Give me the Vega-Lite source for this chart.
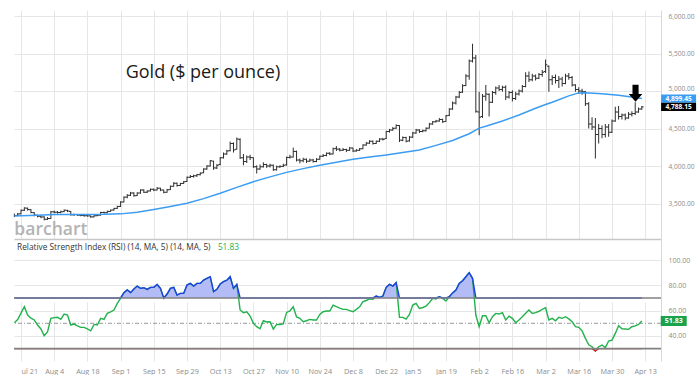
{
  "$schema": "https://vega.github.io/schema/vega-lite/v6.json",
  "padding": {"left": 11, "top": 10, "right": 0, "bottom": 0},
  "background": "white",
  "bounds": "flush",
  "spacing": 0,
  "config": {
    "view": {"stroke": null},
    "font": "Open Sans",
    "axis": {"gridColor": "#e6e6e6", "gridWidth": 1, "ticks": false, "title": null, "labelColor": "#8c8c8c", "labelFont": "Open Sans"}
  },
  "datasets": {
    "bars": [
      {"t":-2,"o":3330,"h":3365,"l":3320,"c":3340},{"t":-1,"o":3342,"h":3375,"l":3335,"c":3360},{"t":0,"o":3362,"h":3420,"l":3355,"c":3410},{"t":1,"o":3410,"h":3450,"l":3400,"c":3440},{"t":2,"o":3438,"h":3445,"l":3405,"c":3420},{"t":3,"o":3418,"h":3425,"l":3370,"c":3380},{"t":4,"o":3378,"h":3385,"l":3330,"c":3345},{"t":5,"o":3345,"h":3350,"l":3315,"c":3330},{"t":6,"o":3330,"h":3340,"l":3305,"c":3320},{"t":7,"o":3322,"h":3330,"l":3275,"c":3290},
      {"t":8,"o":3290,"h":3320,"l":3280,"c":3300},{"t":9,"o":3300,"h":3400,"l":3295,"c":3390},{"t":10,"o":3390,"h":3405,"l":3370,"c":3385},{"t":11,"o":3385,"h":3400,"l":3365,"c":3380},{"t":12,"o":3380,"h":3405,"l":3370,"c":3390},{"t":13,"o":3392,"h":3420,"l":3385,"c":3410},{"t":14,"o":3410,"h":3415,"l":3385,"c":3400},{"t":15,"o":3395,"h":3400,"l":3340,"c":3350},{"t":16,"o":3350,"h":3365,"l":3335,"c":3352},{"t":17,"o":3352,"h":3360,"l":3335,"c":3345},
      {"t":18,"o":3345,"h":3355,"l":3330,"c":3340},{"t":19,"o":3340,"h":3350,"l":3325,"c":3338},{"t":20,"o":3338,"h":3350,"l":3325,"c":3335},{"t":21,"o":3335,"h":3340,"l":3310,"c":3322},{"t":22,"o":3322,"h":3345,"l":3315,"c":3338},{"t":23,"o":3338,"h":3355,"l":3330,"c":3345},{"t":24,"o":3345,"h":3390,"l":3340,"c":3380},{"t":25,"o":3380,"h":3392,"l":3368,"c":3378},{"t":26,"o":3378,"h":3405,"l":3372,"c":3395},{"t":27,"o":3395,"h":3420,"l":3390,"c":3412},
      {"t":28,"o":3412,"h":3442,"l":3405,"c":3435},{"t":29,"o":3435,"h":3470,"l":3428,"c":3460},{"t":30,"o":3462,"h":3530,"l":3455,"c":3520},{"t":31,"o":3520,"h":3595,"l":3515,"c":3585},{"t":32,"o":3585,"h":3625,"l":3570,"c":3610},{"t":33,"o":3610,"h":3655,"l":3600,"c":3640},{"t":34,"o":3640,"h":3650,"l":3590,"c":3605},{"t":35,"o":3605,"h":3650,"l":3600,"c":3640},{"t":36,"o":3640,"h":3690,"l":3630,"c":3680},{"t":37,"o":3680,"h":3690,"l":3640,"c":3650},
      {"t":38,"o":3650,"h":3675,"l":3640,"c":3668},{"t":39,"o":3668,"h":3700,"l":3660,"c":3690},{"t":40,"o":3690,"h":3700,"l":3665,"c":3680},{"t":41,"o":3680,"h":3720,"l":3675,"c":3705},{"t":42,"o":3705,"h":3710,"l":3665,"c":3680},{"t":43,"o":3680,"h":3685,"l":3635,"c":3650},{"t":44,"o":3650,"h":3695,"l":3645,"c":3685},{"t":45,"o":3685,"h":3740,"l":3680,"c":3730},{"t":46,"o":3730,"h":3785,"l":3725,"c":3770},{"t":47,"o":3770,"h":3780,"l":3725,"c":3740},
      {"t":48,"o":3740,"h":3775,"l":3735,"c":3768},{"t":49,"o":3768,"h":3800,"l":3760,"c":3790},{"t":50,"o":3795,"h":3860,"l":3790,"c":3850},{"t":51,"o":3850,"h":3880,"l":3840,"c":3860},{"t":52,"o":3860,"h":3885,"l":3845,"c":3870},{"t":53,"o":3870,"h":3895,"l":3855,"c":3885},{"t":54,"o":3885,"h":3915,"l":3875,"c":3905},{"t":55,"o":3910,"h":3970,"l":3905,"c":3960},{"t":56,"o":3960,"h":4010,"l":3950,"c":4000},{"t":57,"o":4000,"h":4080,"l":3995,"c":4070},
      {"t":58,"o":4065,"h":4070,"l":3950,"c":3975},{"t":59,"o":3975,"h":4025,"l":3960,"c":4010},{"t":60,"o":4020,"h":4120,"l":4010,"c":4110},{"t":61,"o":4110,"h":4180,"l":4100,"c":4160},{"t":62,"o":4160,"h":4215,"l":4150,"c":4200},{"t":63,"o":4205,"h":4325,"l":4195,"c":4300},{"t":64,"o":4300,"h":4315,"l":4180,"c":4215},{"t":65,"o":4225,"h":4380,"l":4220,"c":4360},{"t":66,"o":4355,"h":4370,"l":4095,"c":4110},{"t":67,"o":4110,"h":4160,"l":4010,"c":4060},
      {"t":68,"o":4060,"h":4140,"l":4040,"c":4120},{"t":69,"o":4120,"h":4150,"l":4080,"c":4115},{"t":70,"o":4110,"h":4115,"l":3975,"c":3990},{"t":71,"o":3990,"h":4010,"l":3900,"c":3960},{"t":72,"o":3960,"h":4020,"l":3950,"c":3990},{"t":73,"o":3990,"h":4050,"l":3980,"c":4020},{"t":74,"o":4020,"h":4030,"l":3975,"c":4000},{"t":75,"o":4000,"h":4030,"l":3980,"c":4010},{"t":76,"o":4010,"h":4020,"l":3935,"c":3950},{"t":77,"o":3950,"h":4005,"l":3940,"c":3990},
      {"t":78,"o":3990,"h":4010,"l":3975,"c":3995},{"t":79,"o":3995,"h":4030,"l":3985,"c":4010},{"t":80,"o":4015,"h":4125,"l":4005,"c":4115},{"t":81,"o":4115,"h":4150,"l":4100,"c":4120},{"t":82,"o":4120,"h":4245,"l":4115,"c":4195},{"t":83,"o":4195,"h":4205,"l":4060,"c":4080},{"t":84,"o":4080,"h":4100,"l":4035,"c":4070},{"t":85,"o":4070,"h":4110,"l":4050,"c":4090},{"t":86,"o":4090,"h":4100,"l":4040,"c":4065},{"t":87,"o":4065,"h":4100,"l":4055,"c":4080},
      {"t":88,"o":4080,"h":4095,"l":4045,"c":4060},{"t":89,"o":4060,"h":4105,"l":4050,"c":4090},{"t":90,"o":4090,"h":4140,"l":4085,"c":4130},{"t":91,"o":4130,"h":4160,"l":4120,"c":4140},{"t":92,"o":4140,"h":4180,"l":4130,"c":4170},{"t":93,"o":4170,"h":4185,"l":4145,"c":4160},{"t":94,"o":4160,"h":4245,"l":4155,"c":4230},{"t":95,"o":4235,"h":4265,"l":4200,"c":4225},{"t":96,"o":4225,"h":4240,"l":4195,"c":4210},{"t":97,"o":4210,"h":4240,"l":4200,"c":4220},
      {"t":98,"o":4220,"h":4230,"l":4185,"c":4210},{"t":99,"o":4210,"h":4255,"l":4200,"c":4240},{"t":100,"o":4240,"h":4245,"l":4185,"c":4200},{"t":101,"o":4200,"h":4225,"l":4190,"c":4210},{"t":102,"o":4210,"h":4240,"l":4200,"c":4230},{"t":103,"o":4230,"h":4290,"l":4225,"c":4280},{"t":104,"o":4280,"h":4320,"l":4270,"c":4305},{"t":105,"o":4305,"h":4345,"l":4295,"c":4330},{"t":106,"o":4330,"h":4340,"l":4285,"c":4300},{"t":107,"o":4300,"h":4340,"l":4295,"c":4330},
      {"t":108,"o":4330,"h":4370,"l":4320,"c":4360},{"t":109,"o":4360,"h":4375,"l":4340,"c":4355},{"t":110,"o":4365,"h":4470,"l":4360,"c":4460},{"t":111,"o":4460,"h":4495,"l":4445,"c":4480},{"t":112,"o":4480,"h":4520,"l":4470,"c":4500},{"t":113,"o":4505,"h":4555,"l":4495,"c":4540},{"t":114,"o":4540,"h":4545,"l":4320,"c":4345},{"t":115,"o":4345,"h":4395,"l":4330,"c":4380},{"t":116,"o":4380,"h":4390,"l":4315,"c":4330},{"t":117,"o":4335,"h":4400,"l":4325,"c":4385},
      {"t":118,"o":4385,"h":4455,"l":4375,"c":4440},{"t":119,"o":4440,"h":4495,"l":4430,"c":4480},{"t":120,"o":4480,"h":4490,"l":4440,"c":4460},{"t":121,"o":4460,"h":4485,"l":4450,"c":4470},{"t":122,"o":4470,"h":4515,"l":4460,"c":4505},{"t":123,"o":4505,"h":4575,"l":4500,"c":4560},{"t":124,"o":4560,"h":4600,"l":4550,"c":4590},{"t":125,"o":4590,"h":4615,"l":4580,"c":4600},{"t":126,"o":4600,"h":4640,"l":4590,"c":4620},{"t":127,"o":4620,"h":4630,"l":4575,"c":4590},
      {"t":128,"o":4595,"h":4680,"l":4590,"c":4670},{"t":129,"o":4675,"h":4770,"l":4665,"c":4760},{"t":130,"o":4760,"h":4860,"l":4750,"c":4840},{"t":131,"o":4840,"h":4935,"l":4820,"c":4920},{"t":132,"o":4920,"h":5000,"l":4905,"c":4980},{"t":133,"o":4985,"h":5090,"l":4975,"c":5070},{"t":134,"o":5075,"h":5225,"l":5065,"c":5200},{"t":135,"o":5200,"h":5420,"l":5150,"c":5400},{"t":136,"o":5400,"h":5630,"l":5380,"c":5440},{"t":137,"o":5440,"h":5480,"l":4710,"c":4730},
      {"t":138,"o":4720,"h":4990,"l":4410,"c":4650},{"t":139,"o":4660,"h":4960,"l":4640,"c":4930},{"t":140,"o":4930,"h":5080,"l":4870,"c":4960},{"t":141,"o":4955,"h":4970,"l":4660,"c":4850},{"t":142,"o":4850,"h":5000,"l":4840,"c":4980},{"t":143,"o":4980,"h":5060,"l":4950,"c":5040},{"t":144,"o":5040,"h":5080,"l":5000,"c":5020},{"t":145,"o":5020,"h":5070,"l":4990,"c":5050},{"t":146,"o":5050,"h":5075,"l":4880,"c":4920},{"t":147,"o":4920,"h":5000,"l":4900,"c":4980},
      {"t":148,"o":4980,"h":5010,"l":4860,"c":4900},{"t":149,"o":4900,"h":4990,"l":4880,"c":4960},{"t":150,"o":4960,"h":5020,"l":4940,"c":5000},{"t":151,"o":5000,"h":5080,"l":4980,"c":5060},{"t":152,"o":5060,"h":5250,"l":5050,"c":5200},{"t":153,"o":5200,"h":5260,"l":5120,"c":5150},{"t":154,"o":5150,"h":5230,"l":5130,"c":5200},{"t":155,"o":5200,"h":5220,"l":5140,"c":5170},{"t":156,"o":5170,"h":5240,"l":5160,"c":5220},{"t":157,"o":5220,"h":5280,"l":5190,"c":5250},
      {"t":158,"o":5260,"h":5420,"l":5240,"c":5350},{"t":159,"o":5330,"h":5340,"l":4990,"c":5150},{"t":160,"o":5150,"h":5210,"l":5080,"c":5180},{"t":161,"o":5180,"h":5220,"l":5100,"c":5140},{"t":162,"o":5140,"h":5200,"l":5040,"c":5160},{"t":163,"o":5160,"h":5190,"l":5060,"c":5100},{"t":164,"o":5100,"h":5230,"l":5090,"c":5200},{"t":165,"o":5200,"h":5240,"l":5150,"c":5180},{"t":166,"o":5180,"h":5200,"l":5060,"c":5080},{"t":167,"o":5080,"h":5090,"l":4990,"c":5020},
      {"t":168,"o":5020,"h":5050,"l":4960,"c":5000},{"t":169,"o":5000,"h":5030,"l":4950,"c":4990},{"t":170,"o":4990,"h":5000,"l":4800,"c":4830},{"t":171,"o":4830,"h":4850,"l":4500,"c":4560},{"t":172,"o":4560,"h":4650,"l":4480,"c":4520},{"t":173,"o":4520,"h":4640,"l":4100,"c":4420},{"t":174,"o":4420,"h":4560,"l":4300,"c":4500},{"t":175,"o":4500,"h":4540,"l":4370,"c":4420},{"t":176,"o":4420,"h":4560,"l":4380,"c":4520},{"t":177,"o":4520,"h":4560,"l":4390,"c":4450},
      {"t":178,"o":4450,"h":4620,"l":4440,"c":4600},{"t":179,"o":4600,"h":4790,"l":4590,"c":4720},{"t":180,"o":4720,"h":4800,"l":4620,"c":4660},{"t":181,"o":4660,"h":4700,"l":4620,"c":4680},{"t":182,"o":4680,"h":4700,"l":4610,"c":4640},{"t":183,"o":4640,"h":4720,"l":4630,"c":4690},{"t":184,"o":4690,"h":4730,"l":4660,"c":4700},{"t":185,"o":4700,"h":4850,"l":4680,"c":4720},{"t":186,"o":4720,"h":4780,"l":4710,"c":4760},{"t":187,"o":4760,"h":4800,"l":4750,"c":4788.15}
    ],
    "ma": [
      {"t":-2,"v":3335},{"t":0,"v":3338},{"t":5,"v":3345},{"t":10,"v":3352},{"t":15,"v":3355},{"t":20,"v":3355},{"t":25,"v":3356},{"t":30,"v":3362},{"t":35,"v":3385},{"t":40,"v":3420},{"t":45,"v":3460},{"t":50,"v":3505},{"t":55,"v":3565},{"t":60,"v":3637},{"t":65,"v":3715},{"t":70,"v":3790},{"t":75,"v":3855},{"t":80,"v":3915},{"t":85,"v":3965},{"t":90,"v":4010},{"t":95,"v":4050},{"t":100,"v":4089},{"t":105,"v":4120},{"t":110,"v":4148},{"t":115,"v":4180},{"t":120,"v":4213},{"t":125,"v":4275},{"t":130,"v":4340},{"t":135,"v":4430},{"t":138,"v":4505},{"t":140,"v":4530},{"t":145,"v":4600},{"t":150,"v":4680},{"t":155,"v":4770},{"t":158,"v":4820},{"t":160,"v":4850},{"t":165,"v":4935},{"t":168,"v":4975},{"t":170,"v":4978},{"t":175,"v":4965},{"t":180,"v":4945},{"t":185,"v":4912},{"t":187,"v":4899.45}
    ],
    "rsi": [
      {"t":-2,"v":50.4},{"t":-1,"v":53},{"t":0,"v":58},{"t":1,"v":63.1},{"t":2,"v":56.5},{"t":3,"v":54},{"t":4,"v":52.6},{"t":5,"v":48.6},{"t":6,"v":45.5},{"t":7,"v":40.2},{"t":8,"v":43.3},{"t":9,"v":53.9},{"t":10,"v":54.5},{"t":11,"v":54.7},{"t":12,"v":53.1},{"t":13,"v":57.3},{"t":14,"v":56.5},{"t":15,"v":48.6},{"t":16,"v":49.4},{"t":17,"v":48},{"t":18,"v":46.8},{"t":19,"v":46.8},{"t":20,"v":45.5},{"t":21,"v":44.1},{"t":22,"v":49.1},{"t":23,"v":48.6},{"t":24,"v":53.9},{"t":25,"v":53.1},{"t":26,"v":57.8},{"t":27,"v":59},{"t":28,"v":60.5},{"t":29,"v":65.7},
      {"t":30,"v":69.7},{"t":31,"v":74.2},{"t":32,"v":76.3},{"t":33,"v":74.2},{"t":34,"v":77.1},{"t":35,"v":79.4},{"t":36,"v":77.6},{"t":37,"v":78.1},{"t":38,"v":76.8},{"t":39,"v":78.4},{"t":40,"v":78.4},{"t":41,"v":80.7},{"t":42,"v":77.6},{"t":43,"v":69.7},{"t":44,"v":73.1},{"t":45,"v":77.6},{"t":46,"v":78.4},{"t":47,"v":72.3},{"t":48,"v":73.6},{"t":49,"v":73.6},{"t":50,"v":80.2},{"t":51,"v":81.5},{"t":52,"v":79.4},{"t":53,"v":81.5},{"t":54,"v":81.5},{"t":55,"v":84.2},{"t":56,"v":85.5},{"t":57,"v":86.8},{"t":58,"v":75},{"t":59,"v":76.8},
      {"t":60,"v":81},{"t":61,"v":82.9},{"t":62,"v":84},{"t":63,"v":86.8},{"t":64,"v":77.6},{"t":65,"v":80.7},{"t":66,"v":60.5},{"t":67,"v":58.4},{"t":68,"v":59.1},{"t":69,"v":55.7},{"t":70,"v":49.9},{"t":71,"v":47.3},{"t":72,"v":45.7},{"t":73,"v":52},{"t":74,"v":51},{"t":75,"v":51.2},{"t":76,"v":45.4},{"t":77,"v":49.1},{"t":78,"v":49.1},{"t":79,"v":49.5},{"t":80,"v":58.6},{"t":81,"v":59.7},{"t":82,"v":63.1},{"t":83,"v":55},{"t":84,"v":53.9},{"t":85,"v":51.2},{"t":86,"v":52},{"t":87,"v":53.1},{"t":88,"v":52.6},{"t":89,"v":52.6},
      {"t":90,"v":57},{"t":91,"v":59.1},{"t":92,"v":59.7},{"t":93,"v":59.7},{"t":94,"v":64.4},{"t":95,"v":63.1},{"t":96,"v":62},{"t":97,"v":61},{"t":98,"v":61},{"t":99,"v":60},{"t":100,"v":59.1},{"t":101,"v":61},{"t":102,"v":63},{"t":103,"v":67.1},{"t":104,"v":68},{"t":105,"v":69.2},{"t":106,"v":68.9},{"t":107,"v":71.5},{"t":108,"v":70.5},{"t":109,"v":71.5},{"t":110,"v":78.4},{"t":111,"v":80.7},{"t":112,"v":79.4},{"t":113,"v":82.1},{"t":114,"v":54.7},{"t":115,"v":54.7},{"t":116,"v":53.3},{"t":117,"v":57},{"t":118,"v":64.4},{"t":119,"v":65.7},
      {"t":120,"v":61.8},{"t":121,"v":62.5},{"t":122,"v":63.6},{"t":123,"v":66.3},{"t":124,"v":69.7},{"t":125,"v":69.2},{"t":126,"v":71},{"t":127,"v":69.7},{"t":128,"v":67.6},{"t":129,"v":71},{"t":130,"v":74},{"t":131,"v":76.3},{"t":132,"v":81.5},{"t":133,"v":83.6},{"t":134,"v":86.8},{"t":135,"v":90},{"t":136,"v":85.5},{"t":137,"v":56.5},{"t":138,"v":47.3},{"t":139,"v":56},{"t":140,"v":56},{"t":141,"v":50.4},{"t":142,"v":55.2},{"t":143,"v":57.8},{"t":144,"v":57.3},{"t":145,"v":58.4},{"t":146,"v":52.6},{"t":147,"v":55.7},{"t":148,"v":53.9},{"t":149,"v":50.4},
      {"t":150,"v":52.6},{"t":151,"v":55.2},{"t":152,"v":58},{"t":153,"v":60.5},{"t":154,"v":57.8},{"t":155,"v":58.4},{"t":156,"v":59.5},{"t":157,"v":61},{"t":158,"v":62.3},{"t":159,"v":52.6},{"t":160,"v":53.9},{"t":161,"v":52},{"t":162,"v":54.7},{"t":163,"v":53.9},{"t":164,"v":55.2},{"t":165,"v":53.5},{"t":166,"v":51.2},{"t":167,"v":47.3},{"t":168,"v":46.8},{"t":169,"v":44},{"t":170,"v":38.1},{"t":171,"v":33},{"t":172,"v":31.5},{"t":173,"v":28.1},{"t":174,"v":31.5},{"t":175,"v":32.8},{"t":176,"v":30.8},{"t":177,"v":36},{"t":178,"v":36.7},{"t":179,"v":42},
      {"t":180,"v":48.1},{"t":181,"v":45.7},{"t":182,"v":45.5},{"t":183,"v":45.2},{"t":184,"v":47.3},{"t":185,"v":48},{"t":186,"v":49.1},{"t":187,"v":51.83}
    ],
    "tags": [{"s":"MA","v":4899.45},{"s":"Last","v":4788.15}]
  },
  "vconcat": [
    {
      "width": 647,
      "height": 229,
      "layer": [
        {
          "data": {"name": "bars"},
          "mark": {"type": "rule", "color": "#2e2e2e", "strokeWidth": 1},
          "encoding": {
            "x": {"field": "t", "type": "quantitative", "scale": {"domain": [-2.108, 192.77], "nice": false, "zero": false},
                  "axis": {"values": [0,10,20,30,40,50,60,70,80,90,100,110,118,128,138,148,158,168,178,188], "tickCount": 40, "labels": false, "grid": true, "domain": true, "domainColor": "#c8c8c8", "domainWidth": 1.5}},
            "y": {"field": "l", "type": "quantitative", "scale": {"domain": [3027, 6080], "nice": false, "zero": false},
                  "axis": {"orient": "right", "values": [3500,4000,4500,5000,5500,6000], "tickCount": 10, "format": ",.2f", "grid": true, "labelFontSize": 6.6, "labelPadding": 7,
                           "labelOffset": {"condition": {"test": "datum.value == 5000", "value": -2.5}, "value": 0},
                           "domain": true, "domainColor": "#d9d9d9", "domainWidth": 1}},
            "y2": {"field": "h"}
          }
        },
        {
          "data": {"name": "bars"},
          "mark": {"type": "tick", "orient": "horizontal", "size": 1.8, "thickness": 1, "xOffset": -0.9, "color": "#2e2e2e", "opacity": 1, "clip": true},
          "encoding": {
            "x": {"field": "t", "type": "quantitative"},
            "y": {"field": "o", "type": "quantitative"}
          }
        },
        {
          "data": {"name": "bars"},
          "mark": {"type": "tick", "orient": "horizontal", "size": 1.8, "thickness": 1, "xOffset": 0.9, "color": "#2e2e2e", "opacity": 1},
          "encoding": {
            "x": {"field": "t", "type": "quantitative"},
            "y": {"field": "c", "type": "quantitative"}
          }
        },
        {
          "data": {"name": "ma"},
          "mark": {"type": "line", "color": "#3b9cf2", "strokeWidth": 1.5},
          "encoding": {
            "x": {"field": "t", "type": "quantitative"},
            "y": {"field": "v", "type": "quantitative"}
          }
        },
        {
          "data": {"values": [{}]},
          "mark": {"type": "text", "text": "Gold ($ per ounce)", "fontSize": 18, "color": "#1a1a1a", "align": "center", "baseline": "alphabetic"},
          "encoding": {
            "x": {"datum": 54.8, "type": "quantitative"},
            "y": {"datum": 5169, "type": "quantitative"}
          }
        },
        {
          "data": {"values": [{}]},
          "mark": {"type": "text", "text": "barchart", "fontSize": 17.5, "fontWeight": 600, "color": "#b3b3b3", "align": "left", "baseline": "alphabetic"},
          "encoding": {
            "x": {"datum": -2.0, "type": "quantitative"},
            "y": {"datum": 3080, "type": "quantitative"}
          }
        },
        {
          "data": {"values": [{}]},
          "mark": {"type": "point", "shape": "M-0.36,-1L0.36,-1L0.36,0.08L0.8,0.08L0,1L-0.8,0.08L-0.36,0.08Z", "size": 289, "filled": true, "color": "#000000", "opacity": 1},
          "encoding": {
            "x": {"datum": 185.1, "type": "quantitative"},
            "y": {"datum": 4969, "type": "quantitative"}
          }
        },
        {
          "data": {"name": "tags"},
          "mark": {"type": "point", "shape": "M-1,-0.235H1V0.235H-1Z", "size": 1225, "filled": true, "opacity": 1},
          "encoding": {
            "x": {"datum": 198.07, "type": "quantitative"},
            "y": {"field": "v", "type": "quantitative"},
            "color": {"field": "s", "type": "nominal", "scale": {"domain": ["MA", "Last"], "range": ["#3b9cf2", "#000000"]}, "legend": null}
          }
        },
        {
          "data": {"name": "tags"},
          "mark": {"type": "text", "fontSize": 6.6, "fontWeight": "bold", "color": "#ffffff", "align": "center", "baseline": "middle"},
          "encoding": {
            "x": {"datum": 198.07, "type": "quantitative"},
            "y": {"field": "v", "type": "quantitative"},
            "text": {"field": "v", "type": "quantitative", "format": ",.2f"}
          }
        }
      ]
    },
    {
      "width": 647,
      "height": 122,
      "resolve": {"scale": {"y": "independent"}},
      "layer": [
        {
          "data": {"name": "rsi"},
          "mark": {"type": "area", "color": "#b4bcf7", "opacity": 1},
          "encoding": {
            "x": {"field": "t", "type": "quantitative"},
            "y": {"field": "v", "type": "quantitative", "scale": {"domain": [70, 116.6], "range": [58.97, 0], "clamp": true, "nice": false, "zero": false}, "axis": null},
            "y2": {"datum": 70}
          }
        },
        {
          "data": {"values": [{"v": 50}]},
          "mark": {"type": "rule", "color": "#9a9a9a", "strokeWidth": 1, "strokeDash": [4, 2, 1, 2]},
          "encoding": {
            "y": {"field": "v", "type": "quantitative", "scale": {"domain": [20.2, 116.6], "nice": false, "zero": false}, "axis": null}
          }
        },
        {
          "data": {"name": "rsi"},
          "mark": {"type": "line", "color": "#22b14c", "strokeWidth": 1.4},
          "encoding": {
            "x": {"field": "t", "type": "quantitative", "scale": {"domain": [-2.108, 192.77], "nice": false, "zero": false},
                  "axis": {"values": [0,10,20,30,40,50,60,70,80,90,100,110,118,128,138,148,158,168,178,188], "tickCount": 40,
                           "labelExpr": "['ul 21','Aug 4','Aug 18','Sep 1','Sep 15','Sep 29','Oct 13','Oct 27','Nov 10','Nov 24','Dec 8','Dec 22','Jan 5','Jan 19','Feb 2','Feb 16','Mar 2','Mar 16','Mar 30','Apr 13'][indexof([0,10,20,30,40,50,60,70,80,90,100,110,118,128,138,148,158,168,178,188], datum.value)]",
                           "grid": true, "domain": false, "labelFontSize": 7.3, "labelPadding": 6, "labelOverlap": false, "labelFlush": false,
                           "labelAlign": {"condition": {"test": "datum.value == 0", "value": "left"}, "value": "center"}}},
            "y": {"field": "v", "type": "quantitative", "scale": {"domain": [20.2, 116.6], "nice": false, "zero": false},
                  "axis": {"orient": "right", "values": [40, 60, 80, 100], "tickCount": 10, "format": ".2f", "grid": true, "labelFontSize": 7, "labelPadding": 7, "domain": true, "domainColor": "#d9d9d9", "domainWidth": 1}}
          }
        },
        {
          "data": {"name": "rsi"},
          "mark": {"type": "line", "color": "#1f3ee6", "strokeWidth": 1.4},
          "encoding": {
            "x": {"field": "t", "type": "quantitative"},
            "y": {"field": "v", "type": "quantitative", "scale": {"domain": [70, 116.6], "range": [58.97, 0], "clamp": true, "nice": false, "zero": false}, "axis": null}
          }
        },
        {
          "data": {"name": "rsi"},
          "mark": {"type": "line", "color": "#e3202b", "strokeWidth": 1.4},
          "encoding": {
            "x": {"field": "t", "type": "quantitative"},
            "y": {"field": "v", "type": "quantitative", "scale": {"domain": [20.2, 30], "range": [122, 109.6], "clamp": true, "nice": false, "zero": false}, "axis": null}
          }
        },
        {
          "data": {"values": [{"v": 70}, {"v": 30}]},
          "mark": {"type": "rule", "color": "#808080", "strokeWidth": 1.7},
          "encoding": {
            "y": {"field": "v", "type": "quantitative", "scale": {"domain": [20.2, 116.6], "nice": false, "zero": false}, "axis": null}
          }
        },
        {
          "data": {"values": [{}]},
          "mark": {"type": "text", "text": "Relative Strength Index (RSI) (14, MA, 5)  (14, MA, 5)", "fontSize": 8.3, "color": "#333333", "align": "left", "baseline": "alphabetic"},
          "encoding": {
            "x": {"datum": -1.2, "type": "quantitative"},
            "y": {"datum": 107.9, "type": "quantitative", "scale": {"domain": [20.2, 116.6], "nice": false, "zero": false}, "axis": null}
          }
        },
        {
          "data": {"values": [{"v": 51.83}]},
          "mark": {"type": "text", "fontSize": 8.3, "color": "#22b14c", "align": "left", "baseline": "alphabetic"},
          "encoding": {
            "x": {"datum": 59.3, "type": "quantitative"},
            "y": {"datum": 107.9, "type": "quantitative", "scale": {"domain": [20.2, 116.6], "nice": false, "zero": false}, "axis": null},
            "text": {"field": "v", "type": "quantitative", "format": ".2f"}
          }
        },
        {
          "data": {"values": [{"v": 51.83}]},
          "mark": {"type": "point", "shape": "M-1,-0.385H1V0.385H-1Z", "size": 676, "filled": true, "opacity": 1, "color": "#1aa34a"},
          "encoding": {
            "x": {"datum": 196.6, "type": "quantitative"},
            "y": {"field": "v", "type": "quantitative", "scale": {"domain": [20.2, 116.6], "nice": false, "zero": false}, "axis": null}
          }
        },
        {
          "data": {"values": [{"v": 51.83}]},
          "mark": {"type": "text", "fontSize": 7, "fontWeight": "bold", "color": "#ffffff", "align": "center", "baseline": "middle"},
          "encoding": {
            "x": {"datum": 196.6, "type": "quantitative"},
            "y": {"field": "v", "type": "quantitative", "scale": {"domain": [20.2, 116.6], "nice": false, "zero": false}, "axis": null},
            "text": {"field": "v", "type": "quantitative", "format": ".2f"}
          }
        }
      ]
    }
  ]
}
